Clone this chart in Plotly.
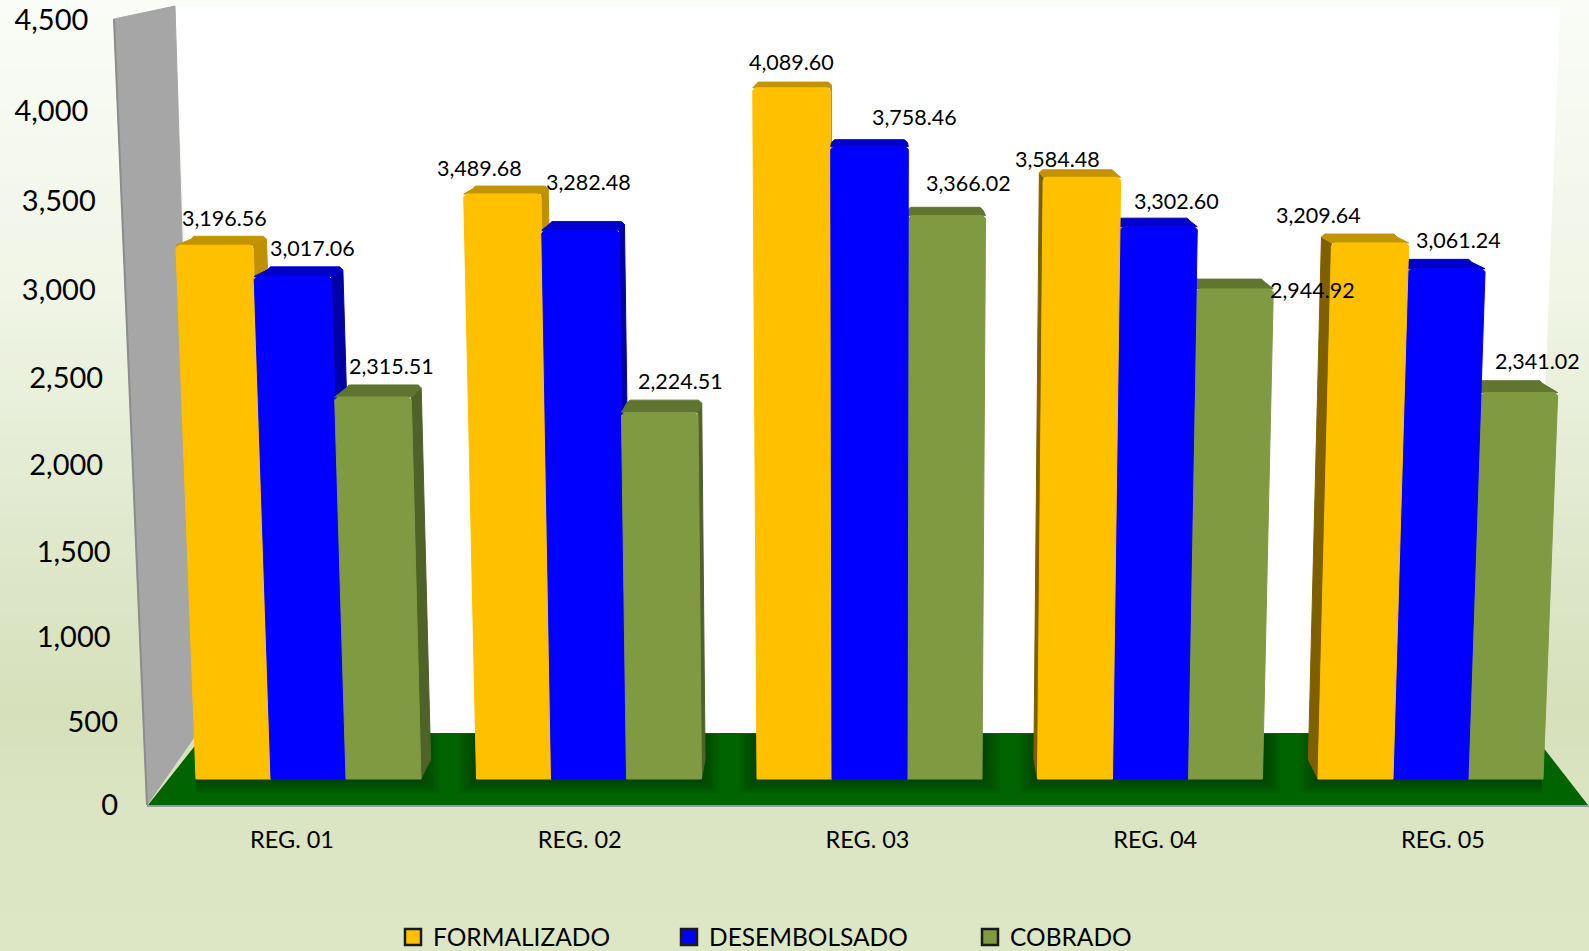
import plotly.graph_objects as go

# ---------- data ----------
CATEGORIES = ["REG. 01", "REG. 02", "REG. 03", "REG. 04", "REG. 05"]
FORMALIZADO = [3196.56, 3489.68, 4089.60, 3584.48, 3209.64]
DESEMBOLSADO = [3017.06, 3282.48, 3758.46, 3302.60, 3061.24]
COBRADO = [2315.51, 2224.51, 3366.02, 2944.92, 2341.02]
Y_TICKS = [0, 500, 1000, 1500, 2000, 2500, 3000, 3500, 4000, 4500]

SERIES_NAMES = ["FORMALIZADO", "DESEMBOLSADO", "COBRADO"]
SERIES_VALUES = [FORMALIZADO, DESEMBOLSADO, COBRADO]

# ---------- styling / geometry ----------
W, H = 1589, 951
FONT = "Lato"
FACE = ["#FFC000", "#0000FF", "#7F9A41"]
TOP = ["#C49400", "#0000CC", "#5F7530"]
SIDE = {False: ["#BF9000", "#0000A8", "#4F6228"], True: ["#7F6000", "#0000A8", "#4F6228"]}

BASE_PX, AXIS_PX = 779, 805          # pixel rows of the bar foot and the axis
CX = 869                             # vanishing column of the perspective
GROUP0, GROUP_STEP, BAR_W = 196, 280.5, 75
LEAN, DEPTH = 9.3e-6, 0.0215
S_BAR = 0.164                        # px per value of the front-plane axis
S_WALL, WARP = 0.16623, 1.101e-5     # wall axis and its perspective curve
TICK0, TICK_STEP = 292, 287.75
CH = 3                               # chamfer of the bar top corners, px

# label offsets from each bar's top centre (px, series by region)
LABEL_DX = [[10, -23, 0, -24, -52], [20, 8, 45, 18, 12], [18, 21, 22, 78, 18]]
LABEL_UP = [[27, 26, 26, 18, 28], [28, 48, 30, 26, 29], [31, 31, 33, -1, 32]]


def front_height(v):
    """Pixel height of value v on the front plane, curved by perspective."""
    return v * (0.1598 + 2.25e-6 * v)


def to_y2(px):
    return (BASE_PX - px) / S_BAR


def lean(x, v):
    return CX + (x - CX) * (1 + LEAN * v)


def back(x):
    return x + (CX - x) * DEPTH


def rise(py):
    return 4 + py * 0.02


def poly(points):
    return "M" + " L".join(f"{x},{to_y2(y)}" for x, y in points) + " Z"


fig = go.Figure()

# ---------- background: gradient, back wall, side wall, floor ----------
STOPS = [(0, (250, 252, 247)), (0.30, (240, 245, 230)), (0.55, (224, 233, 206)),
         (0.75, (214, 224, 186)), (0.85, (219, 229, 195)), (1, (221, 231, 198))]


def grad(t):
    for (a, ca), (b, cb) in zip(STOPS, STOPS[1:]):
        if t <= b:
            f = (t - a) / (b - a)
            return "rgb(%d,%d,%d)" % tuple(round(p + (q - p) * f) for p, q in zip(ca, cb))
    return "rgb(221,231,198)"


shapes = []
N = 70
for n in range(N):
    shapes.append(dict(type="rect", xref="paper", yref="paper", x0=0, x1=1,
                       y0=1 - (n + 1) / N - 0.002, y1=1 - n / N,
                       fillcolor=grad((n + 0.5) / N), line_width=0, layer="below"))
shapes.append(dict(type="path", xref="x", yref="y2", layer="below", line_width=0, fillcolor="#FFFFFF",
                   path=poly([(175, 6), (1560, 6), (1532, 733), (205, 733)])))
shapes.append(dict(type="path", xref="x", yref="y2", layer="below", line_width=0, fillcolor="#006400",
                   path=poly([(148, 805), (205, 733), (1532, 733), (1588, 805)])))
for g in range(len(CATEGORIES)):
    left = GROUP0 + g * GROUP_STEP
    right = left + 3 * BAR_W
    for d in (18, 16, 14, 12, 10, 8, 6, 4, 2):
        shapes.append(dict(type="rect", xref="x", yref="y2", layer="below", line_width=0,
                           fillcolor="rgba(0,0,0,0.035)", x0=max(left - d, 196), x1=min(right + d, 1542),
                           y0=to_y2(BASE_PX + d * 0.8), y1=to_y2(734)))
shapes.append(dict(type="path", xref="x", yref="y2", layer="below", fillcolor="#A6A6A6",
                   line=dict(color="#A6A6A6", width=1),
                   path=poly([(114, 19), (175, 6), (197, 733), (147, 805)])))
shapes.append(dict(type="line", xref="x", yref="y2", layer="below", x0=114, x1=147,
                   y0=to_y2(19), y1=to_y2(805), line=dict(color="#8C8C8C", width=2)))
shapes.append(dict(type="line", xref="x", yref="y2", layer="below", x0=147, x1=1589,
                   y0=to_y2(806), y1=to_y2(806), line=dict(color="#9A9A9A", width=2)))

# ---------- bar cores (the real bar marks) ----------
bars = []
for s, values in enumerate(SERIES_VALUES):
    xs, ws = [], []
    for g, v in enumerate(values):
        x0 = GROUP0 + g * GROUP_STEP + s * BAR_W
        x1 = x0 + BAR_W
        lo = max(x0, lean(x0, v)) + CH
        hi = min(x1, lean(x1, v)) - CH
        xs.append((lo + hi) / 2)
        ws.append(hi - lo)
        bars.append((abs((x0 + x1) / 2 - CX), s, g, x0, x1, v))
    fig.add_trace(go.Bar(x=xs, y=values, width=ws, yaxis="y2", name=SERIES_NAMES[s],
                         marker=dict(color=FACE[s], line_width=0), showlegend=False))

# ---------- perspective faces, drawn far-from-centre first ----------


def add_poly(pts, color):
    pts = pts + pts[:1]
    fig.add_trace(go.Scatter(x=[p[0] for p in pts], y=[to_y2(p[1]) for p in pts], yaxis="y2",
                             mode="lines", fill="toself", fillcolor=color,
                             line=dict(color=color, width=1), hoverinfo="skip", showlegend=False))


for _, s, g, x0, x1, v in sorted(bars, key=lambda b: -b[0]):
    top_y = BASE_PX - front_height(v)
    tl, tr = lean(x0, v), lean(x1, v)
    up_top, up_base = rise(top_y), rise(BASE_PX)
    bl, br = back(tl), back(tr)
    if x1 < CX:   # right side face
        add_poly([(x1, BASE_PX), (back(x1), BASE_PX - up_base), (br, top_y - up_top + CH),
                  (tr, top_y)], SIDE[False][s])
    if x0 > CX:   # left side face
        add_poly([(x0, BASE_PX), (back(x0), BASE_PX - up_base), (bl, top_y - up_top + CH),
                  (tl, top_y)], SIDE[True][s])
    add_poly([(tl, top_y), (tr, top_y), (br, top_y - up_top + CH), (br - CH, top_y - up_top),
              (bl + CH, top_y - up_top), (bl, top_y - up_top + CH)], TOP[s])
    add_poly([(x0, BASE_PX), (x1, BASE_PX), (tr, top_y + CH), (tr - CH, top_y),
              (tl + CH, top_y), (tl, top_y + CH)], FACE[s])

# ---------- data labels ----------
annotations = []
for s, values in enumerate(SERIES_VALUES):
    for g, v in enumerate(values):
        x0 = GROUP0 + g * GROUP_STEP + s * BAR_W
        annotations.append(dict(
            x=lean(x0 + BAR_W / 2, v), y=front_height(v) / S_BAR, xref="x", yref="y2",
            xshift=LABEL_DX[s][g], yshift=LABEL_UP[s][g], showarrow=False,
            text=f"{v:,.2f}", xanchor="center", yanchor="middle",
            font=dict(family=FONT, size=21.5, color="#000000")))

# ---------- legends ----------
LEGEND_LEFT = [393, 669, 970]
legends = {}
for s, name in enumerate(SERIES_NAMES):
    key = "legend" if s == 0 else f"legend{s + 1}"
    fig.add_trace(go.Scatter(x=[None], y=[None], name=name, mode="markers", legend=key,
                             marker=dict(symbol="square", size=16, color=FACE[s],
                                         line=dict(color="#1A1A1A", width=2.5))))
    legends[key] = dict(x=LEGEND_LEFT[s] / W, y=1 - 937 / H, xanchor="left", yanchor="middle",
                        bgcolor="rgba(0,0,0,0)", itemsizing="trace",
                        font=dict(family=FONT, size=24.5, color="#000000"))

# ---------- axes ----------
tick_pos = [v * (1 + WARP * v) for v in Y_TICKS]
# trailing no-break spaces let the labels follow the slanted wall edge
tick_text = [f"{v:,}" + "\u00a0" * int(v / 1000 + 0.4) for v in Y_TICKS]

fig.update_layout(
    width=W, height=H, autosize=False,
    margin=dict(l=0, r=0, t=0, b=0, autoexpand=False),
    paper_bgcolor="#DDE7C6", plot_bgcolor="rgba(0,0,0,0)",
    barmode="overlay", showlegend=True,
    shapes=shapes, annotations=annotations,
    xaxis=dict(domain=[0, 1], range=[0, W], anchor="free", position=1 - AXIS_PX / H,
               tickvals=[TICK0 + i * TICK_STEP for i in range(len(CATEGORIES))],
               ticktext=CATEGORIES, ticks="outside", ticklen=14, tickcolor="rgba(0,0,0,0)",
               showgrid=False, zeroline=False, showline=False,
               tickfont=dict(family=FONT, size=23.5, color="#000000")),
    yaxis=dict(domain=[0, 1], range=[-(H - AXIS_PX) / S_WALL, AXIS_PX / S_WALL],
               anchor="free", position=118 / W,
               tickvals=tick_pos, ticktext=tick_text, ticks="",
               showgrid=False, zeroline=False, showline=False,
               tickfont=dict(family=FONT, size=29, color="#000000")),
    yaxis2=dict(domain=[0, 1], range=[-(H - BASE_PX) / S_BAR, BASE_PX / S_BAR],
                overlaying="y", visible=False),
    **legends,
)

fig.write_html("out.html", config=dict(displayModeBar=False),
               post_script="document.body.style.margin='0';document.documentElement.style.overflow='hidden';")
